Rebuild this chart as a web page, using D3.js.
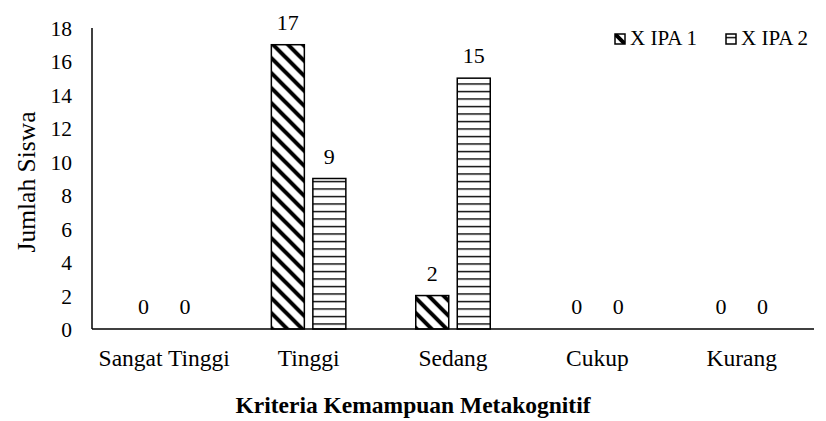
<!DOCTYPE html>
<html>
<head>
<meta charset="utf-8">
<script src="https://cdn.jsdelivr.net/npm/d3@7/dist/d3.min.js"></script>
<style>
  html, body { margin: 0; padding: 0; background: #fff; }
  svg { display: block; }
</style>
</head>
<body>
<svg id="chart" width="826" height="421"></svg>
<script>
// Kriteria kemampuan metakognitif siswa per kelas
const categories = ["Sangat Tinggi", "Tinggi", "Sedang", "Cukup", "Kurang"];
const seriesNames = ["X IPA 1", "X IPA 2"];
const ipa1 = [0, 17, 2, 0, 0];
const ipa2 = [0, 9, 15, 0, 0];
const yTicks = [0, 2, 4, 6, 8, 10, 12, 14, 16, 18];

const FONT = "'Liberation Serif', 'Times New Roman', serif";

const svg = d3.select("#chart");
const W = 826, H = 421;
const margin = { left: 92, right: 12, top: 28, bottom: 92 };
const plotW = W - margin.left - margin.right;
const plotH = H - margin.top - margin.bottom;

// hatch fills
const defs = svg.append("defs");
const diag = defs.append("pattern")
  .attr("id", "hatch-diag").attr("patternUnits", "userSpaceOnUse")
  .attr("width", 15).attr("height", 15);
diag.append("rect").attr("width", 15).attr("height", 15).attr("fill", "#fff");
diag.append("path")
  .attr("d", "M0,0L15,15M-3,12L3,18M12,-3L18,3")
  .attr("stroke", "#000").attr("stroke-width", 4);

const horiz = defs.append("pattern")
  .attr("id", "hatch-horiz").attr("patternUnits", "userSpaceOnUse")
  .attr("width", 8).attr("height", 7.5);
horiz.append("rect").attr("width", 8).attr("height", 7.5).attr("fill", "#fff");
horiz.append("path").attr("d", "M0,3.5L8,3.5")
  .attr("stroke", "#000").attr("stroke-width", 1.4);

const fills = ["url(#hatch-diag)", "url(#hatch-horiz)"];

const g = svg.append("g").attr("transform", `translate(${margin.left},${margin.top})`);

const x0 = d3.scaleBand().domain(categories).range([0, plotW]).padding(0);
const groupW = 74.5;
const x1 = d3.scaleBand().domain(seriesNames).range([0, groupW]).paddingInner(0.205).paddingOuter(0);
const y = d3.scaleLinear().domain([0, 18]).range([plotH, 0]);

const rows = categories.map((c, i) => ({ cat: c, vals: [ipa1[i], ipa2[i]] }));

function styleText(sel, size) {
  return sel.attr("font-family", FONT)
    .style("font-family", FONT).style("font-size", size + "px").style("fill", "#000");
}

// y axis labels (no tick marks)
const yAxis = d3.axisLeft(y).tickValues(yTicks).tickSize(0).tickPadding(20);
const yg = g.append("g").call(yAxis);
yg.select(".domain").remove();
styleText(yg.selectAll("text"), 21.5).attr("dy", "0.35em");

// bars
const groups = g.selectAll(".grp").data(rows).enter().append("g")
  .attr("transform", d => `translate(${x0(d.cat) + (x0.bandwidth() - groupW) / 2},0)`);

groups.selectAll("rect").data(d => d.vals.map((v, k) => ({ v, k })))
  .enter().filter(d => d.v > 0).append("rect")
  .attr("x", d => x1(seriesNames[d.k]))
  .attr("y", d => y(d.v))
  .attr("width", x1.bandwidth())
  .attr("height", d => plotH - y(d.v))
  .attr("fill", d => fills[d.k])
  .attr("stroke", "#000").attr("stroke-width", 1.5);

// value labels
styleText(groups.selectAll("text.val").data(d => d.vals.map((v, k) => ({ v, k })))
  .enter().append("text").attr("class", "val")
  .attr("x", d => x1(seriesNames[d.k]) + x1.bandwidth() / 2)
  .attr("y", d => y(d.v) - 15)
  .attr("text-anchor", "middle"), 22)
  .text(d => d.v);

// axis lines
g.append("line").attr("x1", 0).attr("x2", 0).attr("y1", 0).attr("y2", plotH)
  .attr("stroke", "#000").attr("stroke-width", 1.5);
g.append("line").attr("x1", 0).attr("x2", plotW).attr("y1", plotH).attr("y2", plotH)
  .attr("stroke", "#000").attr("stroke-width", 1.5);

// category labels
const xAxis = d3.axisBottom(x0).tickSize(0).tickPadding(20);
const xg = g.append("g").attr("transform", `translate(0,${plotH})`).call(xAxis);
xg.select(".domain").remove();
styleText(xg.selectAll("text"), 23.5);

// axis titles
styleText(svg.append("text")
  .attr("transform", `translate(35,182) rotate(-90)`)
  .attr("text-anchor", "middle"), 25.5)
  .text("Jumlah Siswa");

styleText(svg.append("text")
  .attr("x", 413).attr("y", 413)
  .attr("text-anchor", "middle"), 23.5)
  .style("font-weight", "bold")
  .text("Kriteria Kemampuan Metakognitif");

// legend
const legendX = [615, 726];
const lg = svg.selectAll(".leg").data(seriesNames).enter().append("g")
  .attr("transform", (d, i) => `translate(${legendX[i]},34)`);
lg.append("rect").attr("width", 10).attr("height", 10)
  .attr("fill", (d, i) => fills[i]).attr("stroke", "#000").attr("stroke-width", 1.5);
styleText(lg.append("text").attr("x", 15).attr("y", 11), 21).text(d => d);
</script>
</body>
</html>
